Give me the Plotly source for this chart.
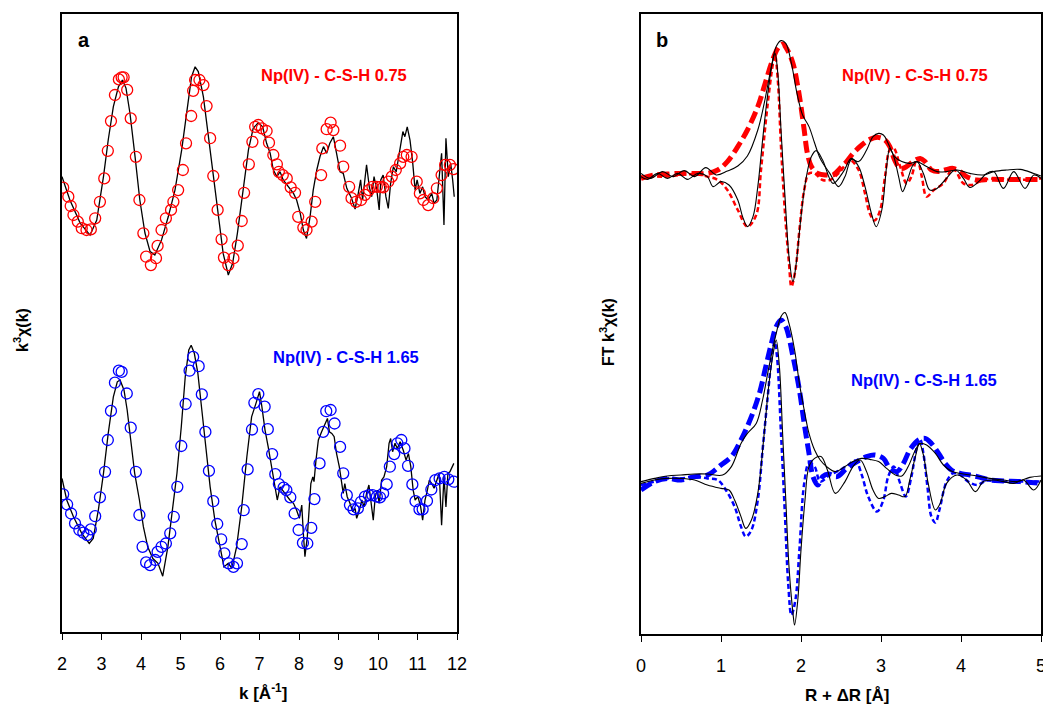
import plotly.graph_objects as go

W, H = 1043, 707

# ---------------- Panel a : k^3 chi(k) ----------------
k_exp_075 = [2.00, 2.20, 2.46, 2.71, 2.88, 3.05, 3.17, 3.30, 3.43, 3.53, 3.62, 3.72, 3.85, 3.97, 4.10, 4.23, 4.35, 4.52,
             4.69, 4.86, 5.03, 5.16, 5.28, 5.37, 5.45, 5.58, 5.70, 5.83, 5.96, 6.08, 6.21, 6.32, 6.44, 6.57, 6.72, 6.84,
             6.97, 7.08, 7.18, 7.27, 7.35, 7.44, 7.52, 7.60, 7.73, 7.86, 7.94, 8.03, 8.11, 8.19, 8.28, 8.36, 8.45, 8.53,
             8.62, 8.70, 8.78, 8.87, 8.95, 9.04, 9.12, 9.21, 9.33, 9.42, 9.50, 9.56, 9.61, 9.67, 9.71, 9.78, 9.84, 9.90,
             9.97, 10.03, 10.07, 10.13, 10.20, 10.26, 10.32, 10.39, 10.46, 10.51, 10.57, 10.63, 10.68, 10.74, 10.81,
             10.88, 10.94, 10.99, 11.06, 11.13, 11.19, 11.27, 11.36, 11.42, 11.49, 11.55, 11.61, 11.67, 11.72, 11.78,
             11.84, 11.89, 11.93]
chi_exp_075 = [0.28, -0.50, -1.27, -1.67, -1.17, 0.28, 1.50, 2.61, 3.28, 3.50, 3.23, 2.40, 0.94, -0.50, -1.60, -2.22,
               -2.33, -1.83, -1.06, -0.17, 1.17, 2.50, 3.61, 3.94, 3.78, 2.94, 1.72, 0.39, -0.94, -2.28, -3.00, -2.61,
               -1.61, -0.28, 1.17, 1.89, 2.08, 1.94, 1.39, 1.06, 0.50, 0.28, 0.44, 0.17, -0.06, -0.28, -0.50, -0.94,
               -1.50, -1.78, -1.06, -0.17, 0.50, 0.94, 1.28, 1.06, 1.39, 1.61, 1.06, 0.44, 0.39, -0.11, -0.44, -0.80,
               -0.28, 0.17, -0.50, 0.17, 0.67, -0.06, -0.39, 0.28, -0.17, -0.83, 0.17, 0.33, -0.39, -0.78, 0.06, 0.61,
               0.44, 0.83, 1.39, 1.78, 1.61, 1.94, 1.50, 0.72, -0.17, 0.17, -0.28, -0.06, -0.39, -0.50, -0.28, -0.61,
               -0.50, 0.28, 1.06, -1.33, 1.56, 0.28, 0.72, 0.17, -0.39]
k_fit_075 = [2.03, 2.16, 2.22, 2.29, 2.40, 2.50, 2.62, 2.73, 2.84, 2.96, 3.07, 3.16, 3.24, 3.34, 3.44, 3.51, 3.56, 3.65,
             3.74, 3.87, 3.96, 4.06, 4.13, 4.25, 4.38, 4.42, 4.52, 4.63, 4.76, 4.82, 4.94, 5.06, 5.14, 5.27, 5.32, 5.37,
             5.48, 5.58, 5.66, 5.75, 5.83, 5.94, 6.04, 6.10, 6.21, 6.34, 6.45, 6.55, 6.61, 6.73, 6.82, 6.89, 6.97, 7.06,
             7.18, 7.24, 7.35, 7.44, 7.49, 7.59, 7.69, 7.79, 7.90, 7.98, 8.11, 8.19, 8.32, 8.41, 8.56, 8.59, 8.70, 8.80,
             8.87, 9.04, 9.12, 9.27, 9.33, 9.44, 9.57, 9.67, 9.77, 9.86, 9.97, 10.07, 10.13, 10.26, 10.35, 10.45, 10.56,
             10.64, 10.73, 10.85, 10.98, 11.06, 11.15, 11.27, 11.40, 11.49, 11.61, 11.70, 11.82, 11.91]
chi_fit_075 = [-0.09, -0.39, -0.70, -1.00, -1.22, -1.44, -1.50, -1.48, -1.11, -0.56, 0.22, 1.14, 2.13, 3.00, 3.52, 3.59,
               3.59, 3.17, 2.22, 0.94, -0.50, -1.61, -2.39, -2.67, -2.44, -2.03, -1.50, -1.11, -0.83, -0.56, -0.17, 0.50,
               1.39, 2.30, 3.14, 3.50, 3.50, 3.33, 2.63, 1.56, 0.30, -0.83, -1.81, -2.42, -2.67, -2.44, -2.02, -1.20,
               -0.26, 0.69, 1.44, 1.94, 2.00, 1.89, 1.80, 1.41, 1.00, 0.69, 0.44, 0.33, 0.22, -0.08, -0.26, -1.06, -1.42,
               -1.50, -1.22, -0.56, 0.33, 1.22, 1.86, 2.08, 1.83, 1.31, 0.61, -0.06, -0.44, -0.56, -0.50, -0.33, -0.17,
               -0.06, -0.06, -0.06, -0.08, 0.11, 0.28, 0.50, 0.72, 0.94, 1.00, 0.94, 0.11, -0.28, -0.50, -0.67, -0.44,
               -0.11, 0.33, 0.67, 0.67, 0.53]

k_exp_165 = [2.00, 2.12, 2.29, 2.50, 2.69, 2.79, 2.92, 3.05, 3.17, 3.30, 3.40, 3.47, 3.57, 3.65, 3.74, 3.84, 3.96, 4.06,
             4.17, 4.30, 4.43, 4.55, 4.68, 4.81, 4.91, 5.02, 5.12, 5.21, 5.27, 5.35, 5.44, 5.54, 5.64, 5.75, 5.87, 6.00,
             6.10, 6.21, 6.30, 6.42, 6.55, 6.68, 6.80, 6.91, 7.00, 7.06, 7.14, 7.22, 7.31, 7.39, 7.45, 7.52, 7.77, 7.86,
             7.94, 8.01, 8.07, 8.11, 8.15, 8.21, 8.26, 8.30, 8.35, 8.38, 8.43, 8.49, 8.57, 8.66, 8.72, 8.77, 8.83, 8.89,
             8.95, 9.02, 9.08, 9.12, 9.16, 9.22, 9.29, 9.36, 9.42, 9.46, 9.53, 9.59, 9.65, 9.71, 9.77, 9.82, 9.88, 9.93,
             9.98, 10.03, 10.09, 10.15, 10.22, 10.28, 10.32, 10.37, 10.43, 10.49, 10.56, 10.64, 10.71, 10.77, 10.83,
             10.89, 10.94, 11.01, 11.08, 11.13, 11.19, 11.25, 11.30, 11.36, 11.42, 11.49, 11.55, 11.61, 11.67, 11.72,
             11.77, 11.82, 11.88, 11.92]
chi_exp_165 = [0.39, -0.33, -0.89, -1.44, -1.78, -1.61, -0.67, 0.56, 1.89, 3.11, 3.61, 3.67, 3.33, 2.67, 1.67, 0.56,
               -0.33, -1.22, -1.89, -2.28, -2.44, -2.87, -1.89, -0.56, 0.56, 2.11, 3.78, 4.67, 4.83, 4.56, 3.89, 2.67,
               1.44, 0.11, -1.00, -1.89, -2.56, -2.44, -2.61, -1.89, -0.56, 1.11, 2.44, 2.89, 3.28, 2.78, 2.00, 1.44,
               0.78, 0.11, -0.33, 0.11, -0.33, -0.44, -0.67, -0.94, -0.50, -1.44, -2.22, -1.56, -0.67, 0.22, 0.44, 0.28,
               1.00, 1.67, 1.94, 2.22, 2.39, 1.94, 1.89, 1.78, 1.22, 0.78, 0.33, -0.11, 0.22, -0.22, -0.44, -0.72, -0.61,
               -0.94, -0.67, -0.33, -0.56, -0.11, 0.17, -0.33, -1.00, -0.22, 0.00, -0.44, 0.33, 0.44, 0.78, 1.56, 1.72,
               1.28, 1.56, 1.39, 1.61, 1.33, 1.00, 1.22, 0.78, 0.00, -0.33, -0.22, -0.56, -1.00, -0.33, 0.00, 0.33,
               0.22, 0.06, 0.33, 0.56, -1.17, 0.44, -0.56, 0.56, 0.61, 0.78, 0.89]
k_fit_165 = [2.03, 2.13, 2.23, 2.33, 2.44, 2.54, 2.64, 2.73, 2.84, 2.96, 3.09, 3.16, 3.24, 3.34, 3.44, 3.51, 3.64, 3.74,
             3.87, 3.96, 4.04, 4.13, 4.23, 4.36, 4.42, 4.52, 4.63, 4.74, 4.83, 4.92, 5.02, 5.13, 5.23, 5.32, 5.46, 5.54,
             5.63, 5.72, 5.83, 5.93, 6.03, 6.11, 6.22, 6.34, 6.43, 6.55, 6.60, 6.70, 6.81, 6.87, 6.97, 7.13, 7.21, 7.32,
             7.40, 7.49, 7.61, 7.68, 7.78, 7.89, 7.99, 8.10, 8.21, 8.31, 8.39, 8.52, 8.61, 8.69, 8.80, 8.90, 9.04, 9.12,
             9.21, 9.29, 9.38, 9.49, 9.57, 9.67, 9.77, 9.86, 9.97, 10.05, 10.13, 10.22, 10.30, 10.41, 10.49, 10.59,
             10.67, 10.76, 10.87, 10.95, 11.05, 11.13, 11.24, 11.35, 11.45, 11.56, 11.68, 11.78, 11.92]
chi_fit_165 = [-0.14, -0.48, -0.78, -1.11, -1.33, -1.42, -1.50, -1.31, -0.87, -0.24, 0.61, 1.67, 2.64, 3.58, 3.98, 3.94,
               3.22, 2.08, 0.61, -0.83, -1.89, -2.41, -2.50, -2.33, -2.06, -1.89, -1.78, -1.44, -0.89, 0.11, 1.47, 2.87,
               3.98, 4.44, 4.13, 3.19, 1.94, 0.64, -0.37, -1.13, -1.64, -2.11, -2.44, -2.56, -2.44, -1.80, -0.67, 0.69,
               2.02, 2.91, 3.20, 2.78, 2.03, 1.20, 0.53, 0.20, 0.08, 0.00, -0.24, -0.78, -1.33, -1.76, -1.78, -1.26,
               -0.30, 0.89, 1.94, 2.63, 2.67, 2.22, 1.44, 0.56, -0.17, -0.50, -0.64, -0.61, -0.39, -0.22, -0.17, -0.17,
               -0.22, -0.24, -0.11, 0.19, 0.78, 1.20, 1.56, 1.67, 1.39, 0.81, 0.19, -0.37, -0.64, -0.64, -0.36, 0.02,
               0.33, 0.39, 0.44, 0.36, 0.28]

# ---------------- Panel b : FT k^3 chi(k) ----------------
r_exp_mag_075 = [0.00, 0.12, 0.27, 0.40, 0.54, 0.67, 0.81, 0.94, 1.08, 1.21, 1.33, 1.46, 1.54, 1.63, 1.69, 1.75, 1.81,
                 1.88, 1.95, 2.02, 2.10, 2.17, 2.24, 2.36, 2.47, 2.55, 2.63, 2.72, 2.82, 2.90, 2.97, 3.03, 3.09, 3.17,
                 3.26, 3.36, 3.45, 3.57, 3.70, 3.82, 3.95, 4.11, 4.28, 4.41, 4.57, 4.74, 4.91, 5.00]
ft_exp_mag_075 = [0.18, -0.07, 0.27, 0.02, 0.32, 0.02, 0.47, 0.10, 0.30, 0.55, 1.05, 2.35, 3.68, 5.52, 6.52, 6.82, 6.68,
                  5.68, 4.18, 3.10, 2.52, 1.70, 0.93, 0.18, -0.48, 0.02, 0.88, 0.77, 1.35, 2.02, 2.18, 2.10, 1.68, 1.02,
                  0.77, 0.68, 0.77, 0.52, 0.27, 0.27, 0.35, 0.18, 0.10, 0.27, 0.35, 0.38, 0.18, 0.05]
r_exp_im_075 = [0.00, 0.08, 0.21, 0.33, 0.46, 0.58, 0.71, 0.83, 0.90, 1.00, 1.10, 1.21, 1.27, 1.33, 1.40, 1.46, 1.52,
                1.58, 1.64, 1.675, 1.71, 1.75, 1.80, 1.85, 1.90, 1.94, 2.00, 2.06, 2.13, 2.19, 2.27, 2.40, 2.53, 2.63,
                2.72, 2.80, 2.88, 2.94, 3.01, 3.07, 3.11, 3.16, 3.22, 3.27, 3.33, 3.40, 3.45, 3.53, 3.61, 3.70, 3.80,
                3.93, 4.03, 4.11, 4.22, 4.32, 4.41, 4.53, 4.66, 4.80, 4.91, 5.00]
ft_exp_im_075 = [0.02, -0.12, 0.18, -0.07, 0.18, -0.12, 0.18, 0.02, -0.48, -0.23, -0.40, -1.15, -1.98, -2.48, -1.98,
                 -0.48, 1.85, 4.02, 5.68, 6.18, 5.18, 2.35, -0.98, -3.98, -5.23, -4.32, -1.98, -0.15, 1.02, 1.32, 0.85,
                 -0.32, 0.27, 0.93, 0.52, -0.48, -1.82, -2.48, -1.65, 0.52, 1.43, 1.02, 0.02, -0.73, -0.15, 0.60, 0.77,
                 0.18, -0.65, -0.57, -0.15, 0.35, -0.07, -0.52, -0.23, 0.18, 0.27, -0.57, 0.27, -0.57, 0.10, -0.07]
r_fit_mag_075 = [0.00, 0.17, 0.33, 0.50, 0.67, 0.83, 0.96, 1.08, 1.21, 1.33, 1.46, 1.54, 1.63, 1.71, 1.77, 1.83, 1.90,
                 1.96, 2.00, 2.04, 2.08, 2.13, 2.21, 2.32, 2.40, 2.49, 2.57, 2.65, 2.76, 2.86, 2.97, 3.05, 3.11, 3.17,
                 3.24, 3.32, 3.40, 3.49, 3.55, 3.63, 3.72, 3.80, 3.90, 3.99, 4.07, 4.20, 4.36, 4.53, 4.74, 5.00]
ft_fit_mag_075 = [-0.07, 0.10, 0.15, 0.18, 0.18, 0.18, 0.35, 0.77, 1.52, 2.35, 3.52, 4.52, 5.68, 6.43, 6.65, 6.35, 5.68,
                  4.52, 3.52, 2.35, 1.18, 0.52, 0.18, 0.10, 0.10, 0.43, 0.77, 1.18, 1.60, 1.88, 1.98, 1.85, 1.52, 0.85,
                  0.43, 0.52, 0.77, 0.93, 0.77, 0.35, 0.27, 0.35, 0.43, 0.27, 0.02, -0.15, -0.12, -0.12, -0.12, -0.12]
r_fit_im_075 = [0.00, 0.17, 0.33, 0.50, 0.67, 0.83, 0.96, 1.08, 1.21, 1.33, 1.44, 1.50, 1.58, 1.65, 1.675, 1.71, 1.75,
                1.80, 1.85, 1.88, 1.93, 1.98, 2.04, 2.10, 2.17, 2.27, 2.36, 2.49, 2.61, 2.72, 2.80, 2.86, 2.92, 2.99,
                3.05, 3.11, 3.16, 3.24, 3.32, 3.38, 3.45, 3.51, 3.57, 3.66, 3.78, 3.90, 4.03, 4.13, 4.28, 4.45, 4.66,
                5.00]
ft_fit_im_075 = [0.02, 0.02, 0.02, 0.10, 0.15, 0.02, -0.15, -0.65, -1.65, -2.48, -1.90, 0.35, 3.52, 5.68, 6.10, 4.85,
                 1.52, -1.82, -4.32, -5.48, -4.65, -2.65, -0.65, 0.18, 0.18, -0.15, -0.15, 0.27, 0.85, 0.35, -0.82,
                 -1.82, -2.18, -1.65, 0.02, 1.35, 1.43, 0.52, -0.32, 0.02, 0.93, 0.02, -0.98, -0.65, -0.32, 0.43, -0.32,
                 -0.40, -0.15, -0.07, -0.15, -0.07]

r_exp_mag_165 = [0.00, 0.17, 0.33, 0.50, 0.67, 0.83, 1.02, 1.13, 1.25, 1.33, 1.44, 1.52, 1.60, 1.69, 1.75, 1.80, 1.85,
                 1.92, 1.98, 2.04, 2.10, 2.17, 2.24, 2.32, 2.43, 2.55, 2.65, 2.76, 2.86, 2.97, 3.07, 3.18, 3.26, 3.34,
                 3.43, 3.49, 3.57, 3.68, 3.78, 3.89, 4.03, 4.20, 4.36, 4.53, 4.70, 4.86, 5.00]
ft_exp_mag_165 = [-0.08, 0.08, 0.20, 0.25, 0.30, 0.30, 0.25, 0.67, 1.83, 2.33, 2.83, 4.00, 5.67, 7.33, 8.17, 8.37, 7.83,
                  6.50, 4.83, 3.50, 2.33, 1.50, 1.00, 0.67, 0.42, 0.67, 0.92, 1.08, 1.03, 0.92, 0.58, 0.25, 0.20, 0.67,
                  1.50, 1.83, 1.75, 1.33, 0.75, 0.42, 0.30, 0.20, 0.08, 0.00, -0.08, 0.13, 0.20]
r_exp_im_165 = [0.00, 0.17, 0.33, 0.50, 0.67, 0.83, 1.00, 1.10, 1.17, 1.25, 1.31, 1.38, 1.46, 1.54, 1.60, 1.66, 1.69,
                1.73, 1.77, 1.81, 1.85, 1.90, 1.92, 1.96, 2.00, 2.05, 2.10, 2.17, 2.25, 2.33, 2.43, 2.55, 2.65, 2.74,
                2.82, 2.90, 2.97, 3.05, 3.13, 3.22, 3.30, 3.36, 3.43, 3.48, 3.53, 3.59, 3.68, 3.74, 3.82, 3.95, 4.07,
                4.18, 4.28, 4.41, 4.53, 4.66, 4.78, 4.91, 5.00]
ft_exp_im_165 = [-0.17, 0.00, 0.08, 0.08, 0.00, -0.25, -0.42, -0.50, -1.00, -1.83, -2.42, -2.00, -0.67, 2.33, 4.83,
                 6.50, 7.00, 5.67, 2.33, -1.00, -4.33, -6.67, -7.25, -6.00, -3.50, -1.00, 0.67, 1.08, 1.17, 0.50, -0.67,
                 -0.08, 0.67, 1.00, 0.42, -0.50, -0.92, -0.83, -0.67, -0.75, -0.83, 0.00, 1.17, 1.83, 1.25, -0.17, -1.50,
                 -1.17, -0.17, 0.25, 0.00, -0.58, -0.08, 0.00, -0.08, -0.17, 0.00, -0.50, 0.00]
r_fit_mag_165 = [0.00, 0.17, 0.33, 0.50, 0.67, 0.83, 1.00, 1.13, 1.25, 1.38, 1.48, 1.56, 1.63, 1.69, 1.75, 1.81, 1.90,
                 1.98, 2.04, 2.10, 2.15, 2.21, 2.27, 2.34, 2.45, 2.57, 2.70, 2.82, 2.92, 3.03, 3.11, 3.20, 3.28, 3.36,
                 3.47, 3.55, 3.63, 3.72, 3.80, 3.88, 3.99, 4.11, 4.24, 4.36, 4.53, 4.74, 5.00]
ft_fit_mag_165 = [-0.50, -0.08, 0.08, 0.00, 0.17, 0.25, 0.75, 1.17, 2.00, 3.17, 4.33, 5.67, 6.83, 7.67, 8.00, 7.67, 6.17,
                  4.50, 2.83, 1.33, 0.17, -0.25, 0.17, 0.30, 0.17, 0.58, 0.92, 1.17, 1.25, 1.08, 0.58, 0.42, 0.83, 1.50,
                  2.00, 2.08, 1.83, 1.33, 0.83, 0.50, 0.33, 0.25, 0.13, 0.00, -0.05, -0.08, -0.17]
r_fit_im_165 = [0.00, 0.17, 0.33, 0.50, 0.67, 0.83, 0.96, 1.06, 1.17, 1.25, 1.31, 1.38, 1.46, 1.52, 1.58, 1.64, 1.67,
                1.70, 1.75, 1.80, 1.84, 1.88, 1.93, 1.98, 2.04, 2.10, 2.17, 2.24, 2.36, 2.49, 2.59, 2.68, 2.76, 2.84,
                2.95, 3.03, 3.09, 3.16, 3.24, 3.31, 3.38, 3.45, 3.49, 3.53, 3.58, 3.63, 3.68, 3.73, 3.82, 3.90, 3.99,
                4.09, 4.20, 4.32, 4.46, 4.74, 5.00]
ft_fit_im_165 = [-0.25, -0.08, 0.08, 0.08, 0.17, 0.08, 0.00, -0.50, -1.33, -2.33, -2.83, -2.50, -1.00, 1.50, 4.00, 6.33,
                 6.92, 6.17, 2.33, -1.83, -5.17, -6.75, -6.00, -3.50, -0.17, 0.83, 0.67, -0.08, 0.25, 0.50, 0.75, 0.97,
                 0.25, -0.83, -1.58, -1.00, 0.17, 0.67, -0.17, -0.83, 0.17, 1.67, 2.03, 1.33, -0.33, -1.83, -2.13, -1.50,
                 -0.08, 0.33, 0.25, -0.08, -0.25, -0.03, -0.08, -0.08, -0.08]

offset_a = [0.0, -10.17]
offset_b = [0.0, -15.15]

RED = "#FF0000"
BLUE = "#0000FF"
BLACK = "#000000"
FONT = "Liberation Sans, Arial, sans-serif"


def shift(vals, off):
    return [v + off for v in vals]


fig = go.Figure()

for kx, ky, kf, yf, col, off in [
    (k_exp_075, chi_exp_075, k_fit_075, chi_fit_075, RED, offset_a[0]),
    (k_exp_165, chi_exp_165, k_fit_165, chi_fit_165, BLUE, offset_a[1]),
]:
    fig.add_trace(go.Scatter(x=kx, y=shift(ky, off), mode="lines",
                             line=dict(color=BLACK, width=1.3), xaxis="x", yaxis="y",
                             showlegend=False, hoverinfo="skip"))
    fig.add_trace(go.Scatter(x=kf, y=shift(yf, off), mode="markers",
                             marker=dict(symbol="circle-open", size=11, color=col, line=dict(width=1.3, color=col)),
                             xaxis="x", yaxis="y", showlegend=False, hoverinfo="skip"))

for (rm, fm, ri, fi, rfm, ffm, rfi, ffi, col, off) in [
    (r_exp_mag_075, ft_exp_mag_075, r_exp_im_075, ft_exp_im_075, r_fit_mag_075, ft_fit_mag_075, r_fit_im_075,
     ft_fit_im_075, RED, offset_b[0]),
    (r_exp_mag_165, ft_exp_mag_165, r_exp_im_165, ft_exp_im_165, r_fit_mag_165, ft_fit_mag_165, r_fit_im_165,
     ft_fit_im_165, BLUE, offset_b[1]),
]:
    fig.add_trace(go.Scatter(x=rfm, y=shift(ffm, off), mode="lines", line_shape="spline",
                             line=dict(color=col, width=5, dash="12px,5px"), xaxis="x2", yaxis="y2",
                             showlegend=False, hoverinfo="skip"))
    fig.add_trace(go.Scatter(x=rfi, y=shift(ffi, off), mode="lines", line_shape="spline",
                             line=dict(color=col, width=2.5, dash="5px,3px"), xaxis="x2", yaxis="y2",
                             showlegend=False, hoverinfo="skip"))
    fig.add_trace(go.Scatter(x=rm, y=shift(fm, off), mode="lines", line_shape="spline",
                             line=dict(color=BLACK, width=1.1), xaxis="x2", yaxis="y2",
                             showlegend=False, hoverinfo="skip"))
    fig.add_trace(go.Scatter(x=ri, y=shift(fi, off), mode="lines", line_shape="spline",
                             line=dict(color=BLACK, width=1.1), xaxis="x2", yaxis="y2",
                             showlegend=False, hoverinfo="skip"))


def px(x):
    return x / W


def py(y):
    return 1 - y / H


xax_common = dict(showline=True, linecolor=BLACK, linewidth=2, mirror=True, ticks="outside", ticklen=6,
                  tickwidth=1, tickcolor=BLACK, showgrid=False, zeroline=False, automargin=False,
                  ticklabeloverflow="allow",
                  tickfont=dict(family=FONT, size=18, color=BLACK), ticklabelstandoff=8)
yax_common = dict(showline=True, linecolor=BLACK, linewidth=2, mirror=True, ticks="", showticklabels=False,
                  showgrid=False, zeroline=False, automargin=False)

fig.update_layout(
    width=W, height=H, autosize=False,
    margin=dict(l=0, r=0, t=0, b=0, pad=0),
    paper_bgcolor="white", plot_bgcolor="white",
    xaxis=dict(domain=[px(62), px(457)], range=[2, 12], dtick=1, tick0=2, anchor="y", **xax_common),
    yaxis=dict(domain=[py(632), py(14)], range=[-14.9, 5.7], anchor="x", **yax_common),
    xaxis2=dict(domain=[px(641), px(1041)], range=[0, 5], dtick=1, tick0=0, anchor="y2", **xax_common),
    yaxis2=dict(domain=[py(634), py(14)], range=[-22.85, 8.15], anchor="x2", **yax_common),
)

ann = []
bold = dict(family=FONT, color=BLACK)
C = dict(xanchor="center", yanchor="middle", showarrow=False)
ann.append(dict(text="<b>a</b>", x=px(84), y=py(40), xref="paper", yref="paper",
                font=dict(size=20, **bold), **C))
ann.append(dict(text="<b>b</b>", x=px(662), y=py(40), xref="paper", yref="paper",
                font=dict(size=20, **bold), **C))
ann.append(dict(text="<b>Np(IV) - C-S-H 0.75</b>", x=8.89, y=3.67, xref="x", yref="y",
                font=dict(size=16.5, family=FONT, color=RED), **C))
ann.append(dict(text="<b>Np(IV) - C-S-H 1.65</b>", x=9.19, y=-5.73, xref="x", yref="y",
                font=dict(size=16.5, family=FONT, color=BLUE), **C))
ann.append(dict(text="<b>Np(IV) - C-S-H 0.75</b>", x=3.42, y=5.1, xref="x2", yref="y2",
                font=dict(size=16.5, family=FONT, color=RED), **C))
ann.append(dict(text="<b>Np(IV) - C-S-H 1.65</b>", x=3.54, y=-10.15, xref="x2", yref="y2",
                font=dict(size=16.5, family=FONT, color=BLUE), **C))
ann.append(dict(text="<b>k [Å<sup>-1</sup>]</b>", x=px(263), y=py(692), xref="paper", yref="paper",
                font=dict(size=17, **bold), **C))
ann.append(dict(text="<b>R + ΔR [Å]</b>", x=px(847), y=py(695), xref="paper", yref="paper",
                font=dict(size=17, **bold), **C))
ann.append(dict(text="<b>k<sup>3</sup>χ(k)</b>", x=px(21), y=py(330), xref="paper", yref="paper",
                textangle=-90, font=dict(size=16, **bold), **C))
ann.append(dict(text="<b>FT k<sup>3</sup>χ(k)</b>", x=px(607), y=py(332), xref="paper", yref="paper",
                textangle=-90, font=dict(size=16, **bold), **C))
fig.update_layout(annotations=ann)

fig.write_html("out.html")
